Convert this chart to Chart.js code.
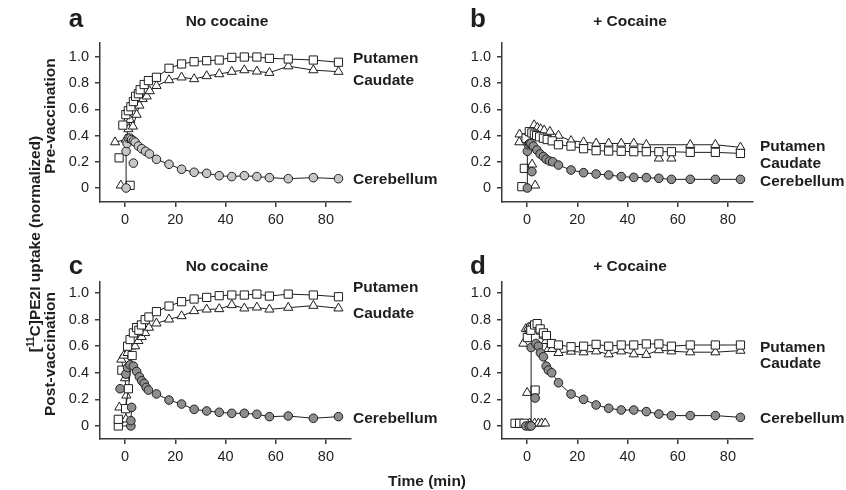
<!DOCTYPE html>
<html>
<head>
<meta charset="utf-8">
<script src="https://cdn.jsdelivr.net/npm/chart.js@4.4.0/dist/chart.umd.min.js"></script>
<style>
    body { margin: 0; background: #fff; width: 846px; height: 490px; overflow: hidden; position: relative;
           font-family: "Liberation Sans", Arial, sans-serif; color: #1e1e1e; }
    canvas { position: absolute; }
    .txt { position: absolute; font-weight: bold; font-size: 15.5px; white-space: nowrap; line-height: 1; z-index: 2; }
    .mid { transform: translate(-50%, -50%); }
    .lft { transform: translateY(-50%); }
    .rot { transform: translate(-50%, -50%) rotate(-90deg); }
    .letter { font-size: 26px; }
    sup { font-size: 10px; vertical-align: 6px; }
</style>
</head>
<body>
<canvas id="panelA" width="420" height="245" style="left:0;top:0"></canvas>
<canvas id="panelB" width="420" height="245" style="left:420px;top:0"></canvas>
<canvas id="panelC" width="420" height="245" style="left:0;top:240px"></canvas>
<canvas id="panelD" width="420" height="245" style="left:420px;top:240px"></canvas>

<div class="txt letter mid" style="left:76px;top:18px">a</div>
<div class="txt letter mid" style="left:478px;top:18px">b</div>
<div class="txt letter mid" style="left:76px;top:265px">c</div>
<div class="txt letter mid" style="left:478px;top:265px">d</div>

<div class="txt mid" style="left:227px;top:21px">No cocaine</div>
<div class="txt mid" style="left:630px;top:21px">+ Cocaine</div>
<div class="txt mid" style="left:227px;top:266px">No cocaine</div>
<div class="txt mid" style="left:630px;top:266px">+ Cocaine</div>

<div class="txt lft" style="left:353px;top:58px">Putamen</div>
<div class="txt lft" style="left:353px;top:80px">Caudate</div>
<div class="txt lft" style="left:353px;top:179px">Cerebellum</div>
<div class="txt lft" style="left:760px;top:146px">Putamen</div>
<div class="txt lft" style="left:760px;top:163px">Caudate</div>
<div class="txt lft" style="left:760px;top:181px">Cerebellum</div>
<div class="txt lft" style="left:353px;top:287px">Putamen</div>
<div class="txt lft" style="left:353px;top:313px">Caudate</div>
<div class="txt lft" style="left:353px;top:418px">Cerebellum</div>
<div class="txt lft" style="left:760px;top:347px">Putamen</div>
<div class="txt lft" style="left:760px;top:363px">Caudate</div>
<div class="txt lft" style="left:760px;top:418px">Cerebellum</div>

<div class="txt rot" style="left:50px;top:116px">Pre-vaccination</div>
<div class="txt rot" style="left:50px;top:354px">Post-vaccination</div>
<div class="txt rot" style="left:34px;top:244px">[<sup>11</sup>C]PE2I uptake (normalized)</div>
<div class="txt mid" style="left:427px;top:481px">Time (min)</div>

<script>
// axis ticks
const xTicks = [0, 20, 40, 60, 80];
const yTicks = [0, 0.2, 0.4, 0.6, 0.8, 1.0];
const yTickLabels = ['0', '0.2', '0.4', '0.6', '0.8', '1.0'];

// [time (min), normalized uptake]; null breaks the line
// a - pre-vaccination, no cocaine
const aPutamen = [[-2.4, 0.23], null, [2.0, 0.02], null,
    [-0.9, 0.48], [0.3, 0.56], [1.3, 0.59], [2.3, 0.62], [3.3, 0.66], [4.2, 0.70], [5.3, 0.72], [6.0, 0.75],
    [7.6, 0.79], [9.3, 0.82], [12.5, 0.845], [17.5, 0.914], [22.5, 0.947], [27.5, 0.964], [32.5, 0.972],
    [37.5, 0.977], [42.5, 0.997], [47.5, 1.0], [52.5, 1.0], [57.5, 0.99], [65, 0.985], [75, 0.977], [85, 0.96]];
const aCaudate = [[-1.7, 0.02], null,
    [-4.0, 0.35], [0.3, 0.37], [1.3, 0.45], [2.0, 0.52], [3.1, 0.47], [4.6, 0.56], [5.7, 0.63], [7.0, 0.68],
    [8.6, 0.70], [9.8, 0.74], [12.5, 0.78], [17.5, 0.824], [22.5, 0.845], [27.5, 0.832], [32.5, 0.855],
    [37.5, 0.87], [42.5, 0.888], [47.5, 0.90], [52.5, 0.89], [57.5, 0.88], [65, 0.93], [75, 0.90], [85, 0.888]];
const aCerebellum = [[3.3, 0.19], null,
    [0.4, 0.0], [0.4, 0.28], [0.8, 0.34], [1.3, 0.38], [2.0, 0.38], [2.6, 0.37], [3.3, 0.36], [4.0, 0.35],
    [5.3, 0.32], [6.6, 0.30], [8.2, 0.28], [9.7, 0.26], [12.5, 0.219], [17.5, 0.181], [22.5, 0.143],
    [27.5, 0.12], [32.5, 0.112], [37.5, 0.094], [42.5, 0.087], [47.5, 0.094], [52.5, 0.087], [57.5, 0.079],
    [65, 0.071], [75, 0.079], [85, 0.071]];

// b - pre-vaccination, + cocaine
const bPutamen = [[-2.1, 0.01], null, [-1.1, 0.15], null,
    [-0.4, 0.38], [0.9, 0.43], [1.9, 0.42], [2.9, 0.41], [3.8, 0.40], [5.0, 0.39], [6.5, 0.38], [8.0, 0.37],
    [10.0, 0.36], [12.5, 0.33], [17.5, 0.32], [22.5, 0.30], [27.5, 0.285], [32.5, 0.282], [37.5, 0.28],
    [42.5, 0.277], [47.5, 0.277], [52.5, 0.277], [57.5, 0.277], [65, 0.272], [75, 0.272], [85, 0.264]];
const bCaudate = [[2.0, 0.18], null, [3.2, 0.02], null, [52.5, 0.226], null, [57.5, 0.226], null,
    [-3.1, 0.35], [-3.0, 0.41], [1.5, 0.42], [2.8, 0.48], [4.1, 0.46], [5.4, 0.45], [6.8, 0.44], [9.1, 0.43],
    [12.5, 0.40], [17.5, 0.36], [22.5, 0.35], [27.5, 0.34], [32.5, 0.34], [37.5, 0.34], [42.5, 0.34],
    [47.5, 0.33], [65, 0.33], [75, 0.33], [85, 0.31]];
const bCerebellum = [[1.9, 0.125], null,
    [0.1, 0.0], [0.1, 0.28], [0.5, 0.33], [1.0, 0.34], [1.5, 0.34], [2.5, 0.32], [3.9, 0.29], [5.2, 0.26],
    [6.5, 0.24], [7.6, 0.22], [8.9, 0.206], [10.2, 0.20], [12.5, 0.175], [17.5, 0.137], [22.5, 0.117],
    [27.5, 0.107], [32.5, 0.099], [37.5, 0.087], [42.5, 0.081], [47.5, 0.079], [52.5, 0.074], [57.5, 0.066],
    [65, 0.066], [75, 0.066], [85, 0.066]];

// c - post-vaccination, no cocaine
const cPutamen = [[-2.7, 0.0], [-2.7, 0.05], null, [-1.3, 0.42], null,
    [0.2, 0.13], [1.3, 0.28], [2.8, 0.53], [1.0, 0.60], [2.0, 0.65], [3.3, 0.70], [4.6, 0.74], [5.5, 0.72],
    [6.5, 0.76], [8.0, 0.80], [9.5, 0.82], [12.5, 0.86], [17.5, 0.902], [22.5, 0.935], [27.5, 0.955],
    [32.5, 0.967], [37.5, 0.98], [42.5, 0.985], [47.5, 0.985], [52.5, 0.992], [57.5, 0.977], [65, 0.992],
    [75, 0.985], [85, 0.972]];
const cCaudate = [[-2.3, 0.14], null,
    [0.3, 0.02], [0.3, 0.05], [0.5, 0.23], [0.0, 0.36], [-1.5, 0.50], [-0.5, 0.53], [1.0, 0.55], [2.5, 0.60],
    [4.0, 0.60], [5.3, 0.64], [6.6, 0.67], [8.0, 0.70], [9.5, 0.74], [12.5, 0.772], [17.5, 0.802],
    [22.5, 0.827], [27.5, 0.865], [32.5, 0.877], [37.5, 0.88], [42.5, 0.91], [47.5, 0.885], [52.5, 0.892],
    [57.5, 0.877], [65, 0.89], [75, 0.905], [85, 0.885]];
const cCerebellum = [[-2.0, 0.28], null,
    [2.3, 0.0], [2.3, 0.04], [2.6, 0.14], null,
    [0.3, 0.39], [1.0, 0.44], [2.0, 0.46], [3.3, 0.45], [4.6, 0.41], [5.7, 0.37], [6.6, 0.34], [7.6, 0.32],
    [8.4, 0.29], [9.3, 0.27], [12.5, 0.241], [17.5, 0.195], [22.5, 0.165], [27.5, 0.125], [32.5, 0.113],
    [37.5, 0.103], [42.5, 0.095], [47.5, 0.095], [52.5, 0.088], [57.5, 0.07], [65, 0.075], [75, 0.058],
    [85, 0.07]];

// d - post-vaccination, + cocaine
const dPutamen = [[3.2, 0.27], null,
    [-4.8, 0.02], [-3.0, 0.02], [-1.2, 0.02], null,
    [0.1, 0.665], [1.5, 0.72], [3.0, 0.76], [4.0, 0.77], [5.2, 0.73], [6.5, 0.70], [7.7, 0.68], [9.7, 0.62],
    [12.5, 0.609], [17.5, 0.596], [22.5, 0.60], [27.5, 0.614], [32.5, 0.60], [37.5, 0.609], [42.5, 0.609],
    [47.5, 0.617], [52.5, 0.617], [57.5, 0.60], [65, 0.609], [75, 0.609], [85, 0.609]];
const dCaudate = [[0.0, 0.25], null,
    [1.0, 0.02], [3.0, 0.02], [4.5, 0.02], [5.8, 0.02], [7.2, 0.02], null,
    [-1.5, 0.62], [-0.5, 0.73], [0.5, 0.74], [1.5, 0.75], [2.5, 0.75], [3.5, 0.74], [4.5, 0.73], [5.5, 0.71],
    [6.5, 0.68], [7.5, 0.64], [8.5, 0.58], [10.0, 0.58], [12.5, 0.55], [17.5, 0.56], [22.5, 0.555],
    [27.5, 0.562], [32.5, 0.54], [37.5, 0.562], [42.5, 0.54], [47.5, 0.536], [52.5, 0.571], [57.5, 0.562],
    [65, 0.555], [75, 0.555], [85, 0.567]];
const dCerebellum = [[3.2, 0.21], null,
    [-0.5, 0.0], [0.8, 0.0], [1.6, 0.0], [1.6, 0.59], [3.5, 0.62], [4.5, 0.60], [5.3, 0.55], [6.5, 0.52],
    [7.6, 0.45], [8.5, 0.42], [9.8, 0.40], [12.5, 0.325], [17.5, 0.24], [22.5, 0.20], [27.5, 0.158],
    [32.5, 0.133], [37.5, 0.12], [42.5, 0.12], [47.5, 0.108], [52.5, 0.09], [57.5, 0.078], [65, 0.078],
    [75, 0.078], [85, 0.065]];

const AXIS = '#3a3a3a';
const INK = '#1e1e1e';

function toPoints(pairs) {
    return pairs.map(p => p ? { x: p[0], y: p[1] } : { x: null, y: null });
}

function makePanel(id, opts) {
    const ds = (pairs, style, radius, fill) => ({
        data: toPoints(pairs),
        borderColor: INK,
        borderWidth: 1,
        pointStyle: style,
        pointRadius: radius,
        pointBorderColor: INK,
        pointBorderWidth: 1,
        pointBackgroundColor: fill,
        backgroundColor: fill,
        tension: 0,
        spanGaps: false
    });

    new Chart(document.getElementById(id), {
        type: 'line',
        data: {
            datasets: [
                ds(opts.cereb, 'circle', 4.3, opts.cerebFill),
                ds(opts.put, 'rect', 5.8, '#ffffff'),
                ds(opts.caud, 'triangle', 5.3, '#ffffff')
            ]
        },
        options: {
            responsive: false,
            animation: false,
            devicePixelRatio: 1,
            layout: { padding: opts.padding },
            plugins: { legend: { display: false }, tooltip: { enabled: false } },
            scales: {
                x: {
                    type: 'linear',
                    min: -10, max: 90,
                    afterFit: s => { s.height = 40; },
                    afterBuildTicks: s => { s.ticks = xTicks.map(v => ({ value: v })); },
                    border: { display: true, color: AXIS, width: 1.5 },
                    grid: { display: true, drawOnChartArea: false, drawTicks: true, tickLength: 5, color: AXIS, lineWidth: 1.5 },
                    ticks: { padding: 4, color: INK, font: { family: 'Liberation Sans', size: 14.5 }, maxRotation: 0,
                             callback: v => String(v) }
                },
                y: {
                    min: opts.yMin, max: opts.yMax,
                    afterFit: s => { s.width = opts.yWidth; },
                    afterBuildTicks: s => { s.ticks = yTicks.map(v => ({ value: v })); },
                    border: { display: true, color: AXIS, width: 1.5 },
                    grid: { display: true, drawOnChartArea: false, drawTicks: true, tickLength: 5, color: AXIS, lineWidth: 1.5 },
                    ticks: { padding: 6, color: INK, font: { family: 'Liberation Sans', size: 14.5 },
                             callback: (v, i) => yTickLabels[i] }
                }
            }
        }
    });
}

makePanel('panelA', { put: aPutamen, caud: aCaudate, cereb: aCerebellum, cerebFill: '#c6c6c6',
    yMin: -0.107, yMax: 1.107, yWidth: 100, padding: { left: 0, top: 43, right: 69, bottom: 3 } });
makePanel('panelB', { put: bPutamen, caud: bCaudate, cereb: bCerebellum, cerebFill: '#8e8e8e',
    yMin: -0.107, yMax: 1.107, yWidth: 82, padding: { left: 0, top: 43, right: 87, bottom: 3 } });
makePanel('panelC', { put: cPutamen, caud: cCaudate, cereb: cCerebellum, cerebFill: '#8e8e8e',
    yMin: -0.098, yMax: 1.083, yWidth: 100, padding: { left: 0, top: 42, right: 69, bottom: 6 } });
makePanel('panelD', { put: dPutamen, caud: dCaudate, cereb: dCerebellum, cerebFill: '#8e8e8e',
    yMin: -0.098, yMax: 1.083, yWidth: 82, padding: { left: 0, top: 42, right: 87, bottom: 6 } });
</script>
</body>
</html>
